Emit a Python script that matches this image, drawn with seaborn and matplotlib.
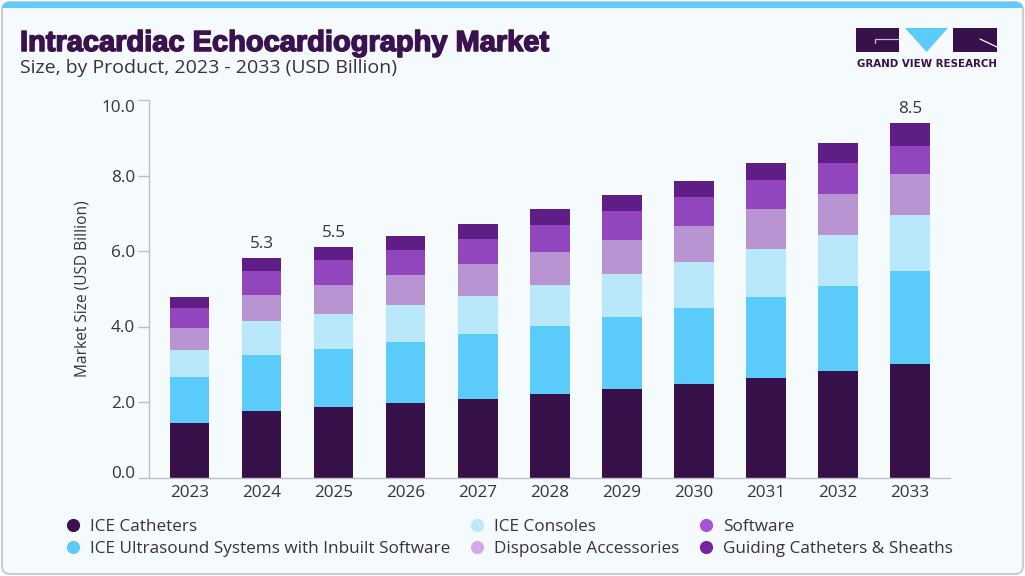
import matplotlib
matplotlib.use("Agg")
import matplotlib.pyplot as plt
import matplotlib.patheffects as pe
from matplotlib.lines import Line2D
from matplotlib.patches import FancyBboxPatch, Polygon, Rectangle
import numpy as np
import pandas as pd
import seaborn as sns

years = [2023, 2024, 2025, 2026, 2027, 2028, 2029, 2030, 2031, 2032, 2033]
catheters = [1.45, 1.76, 1.87, 1.98, 2.08, 2.21, 2.35, 2.48, 2.64, 2.82, 3.01]
ultrasound = [1.22, 1.49, 1.54, 1.61, 1.73, 1.81, 1.91, 2.02, 2.15, 2.26, 2.47]
consoles = [0.71, 0.90, 0.93, 0.99, 1.00, 1.09, 1.14, 1.22, 1.27, 1.35, 1.48]
disposable = [0.59, 0.69, 0.77, 0.79, 0.85, 0.87, 0.90, 0.95, 1.04, 1.09, 1.09]
software = [0.53, 0.64, 0.66, 0.66, 0.67, 0.72, 0.77, 0.77, 0.79, 0.82, 0.74]
guiding = [0.27, 0.34, 0.34, 0.38, 0.39, 0.40, 0.42, 0.42, 0.45, 0.51, 0.59]

series_names = [
    "ICE Catheters",
    "ICE Ultrasound Systems with Inbuilt Software",
    "ICE Consoles",
    "Disposable Accessories",
    "Software",
    "Guiding Catheters & Sheaths",
]
series_values = [catheters, ultrasound, consoles, disposable, software, guiding]
bar_colors = ["#371149", "#5BCBFA", "#BAE8FB", "#B994D2", "#9146BE", "#5F1E85"]
dot_colors = ["#3A1250", "#5CCBFA", "#BDE8FA", "#D4A9EA", "#A551D8", "#7A239F"]

# only these years carry a label in the original
label_years = [2024, 2025, 2033]
label_texts = ["5.3", "5.5", "8.5"]

ink = "#3A3040"
grey = "#BDBFC2"

sns.set_theme(style="white")
plt.rcParams["font.family"] = ["Open Sans", "DejaVu Sans"]

fig = plt.figure(figsize=(10.25, 5.76), dpi=100, facecolor="white")

# card, stripe and logo are drawn in pixel coordinates
bg = fig.add_axes([0, 0, 1, 1], zorder=0)
bg.set_xlim(0, 1025)
bg.set_ylim(576, 0)
bg.axis("off")

card = FancyBboxPatch((2, 2), 1021, 572, boxstyle="round,pad=0,rounding_size=8",
                      facecolor="#F5FAFD", edgecolor="#C9CDCF", linewidth=1.5)
bg.add_patch(card)
stripe = Rectangle((0, 0), 1025, 8, facecolor="#5FCBF9", edgecolor="none")
bg.add_patch(stripe)
stripe.set_clip_path(card)

title = bg.text(20, 43, "Intracardiac Echocardiography Market", fontsize=20.9, fontweight="bold",
                color="#3A1250", va="center", ha="left",
                family=["Liberation Sans", "DejaVu Sans"])
title.set_path_effects([pe.withStroke(linewidth=1.1, foreground="#3A1250")])
bg.text(20, 68, "Size, by Product, 2023 - 2033 (USD Billion)", fontsize=14,
        color=ink, va="center", ha="left")

bg.add_patch(Rectangle((856, 28), 43, 24, facecolor="#371149", edgecolor="none"))
bg.add_patch(Rectangle((953, 28), 44, 24, facecolor="#371149", edgecolor="none"))
bg.add_patch(Polygon([(905, 28), (948, 28), (926.5, 52)], facecolor="#5BCBFA", edgecolor="none"))
bg.plot([899, 875, 875], [39, 39, 43], color="#C9BCD2", lw=0.9)
bg.plot([980, 997], [39, 47], color="#F5FAFD", lw=0.9)
bg.text(926.5, 64, "GRAND VIEW RESEARCH", fontsize=7.4, fontweight="bold", color="#371149",
        va="center", ha="center", family=["DejaVu Sans"])

ax = fig.add_axes([149 / 1025, 1 - 477.5 / 576, 801 / 1025, 377.5 / 576], zorder=1)
ax.patch.set_alpha(0)

bottom = np.zeros(len(years))
for name, values, color in zip(series_names, series_values, bar_colors):
    df = pd.DataFrame({"year": years, "value": values})
    sns.barplot(data=df, x="year", y="value", color=color, width=0.55, bottom=bottom,
                saturation=1, linewidth=0, errorbar=None, ax=ax)
    bottom = bottom + np.array(values)

for year, text in zip(label_years, label_texts):
    i = years.index(year)
    ax.annotate(text, (i, bottom[i]), xytext=(0, 4.5), textcoords="offset points",
                ha="center", va="bottom", fontsize=12.3, color=ink)

ax.set_xlim(-0.562, 10.555)
ax.set_ylim(0, 10)
ax.set_xlabel("")
ax.set_ylabel("Market Size (USD Billion)", fontsize=11.2, color=ink, labelpad=7.5)
ax.set_yticks([0, 2, 4, 6, 8, 10])
ax.set_yticklabels(["0.0", "2.0", "4.0", "6.0", "8.0", "10.0"])
ax.tick_params(axis="y", length=8, width=1, color=grey, labelcolor=ink, labelsize=12.3, pad=2, left=True)
ax.tick_params(axis="x", length=0, labelcolor=ink, labelsize=12.3, pad=5.5)

# end labels sit inside the axis range like the original
y_labels = ax.get_yticklabels()
y_labels[0].set_va("baseline")
y_labels[-1].set_va("top")

sns.despine(ax=ax)
for side in ["left", "bottom"]:
    ax.spines[side].set_color(grey)
    ax.spines[side].set_linewidth(1)

handles = [
    Line2D([], [], marker="o", linestyle="none", markersize=9.5, markerfacecolor=c,
           markeredgecolor="none", label=n)
    for n, c in zip(series_names, dot_colors)
]
fig.legend(handles=handles, ncol=3, loc="upper left", bbox_to_anchor=(56 / 1025, 1 - 519 / 576),
           frameon=False, fontsize=12.3, labelcolor=ink, handletextpad=0.0, columnspacing=0.55,
           labelspacing=0.35, borderpad=0, borderaxespad=0)

fig.savefig("out.png", dpi=100, facecolor="white")
